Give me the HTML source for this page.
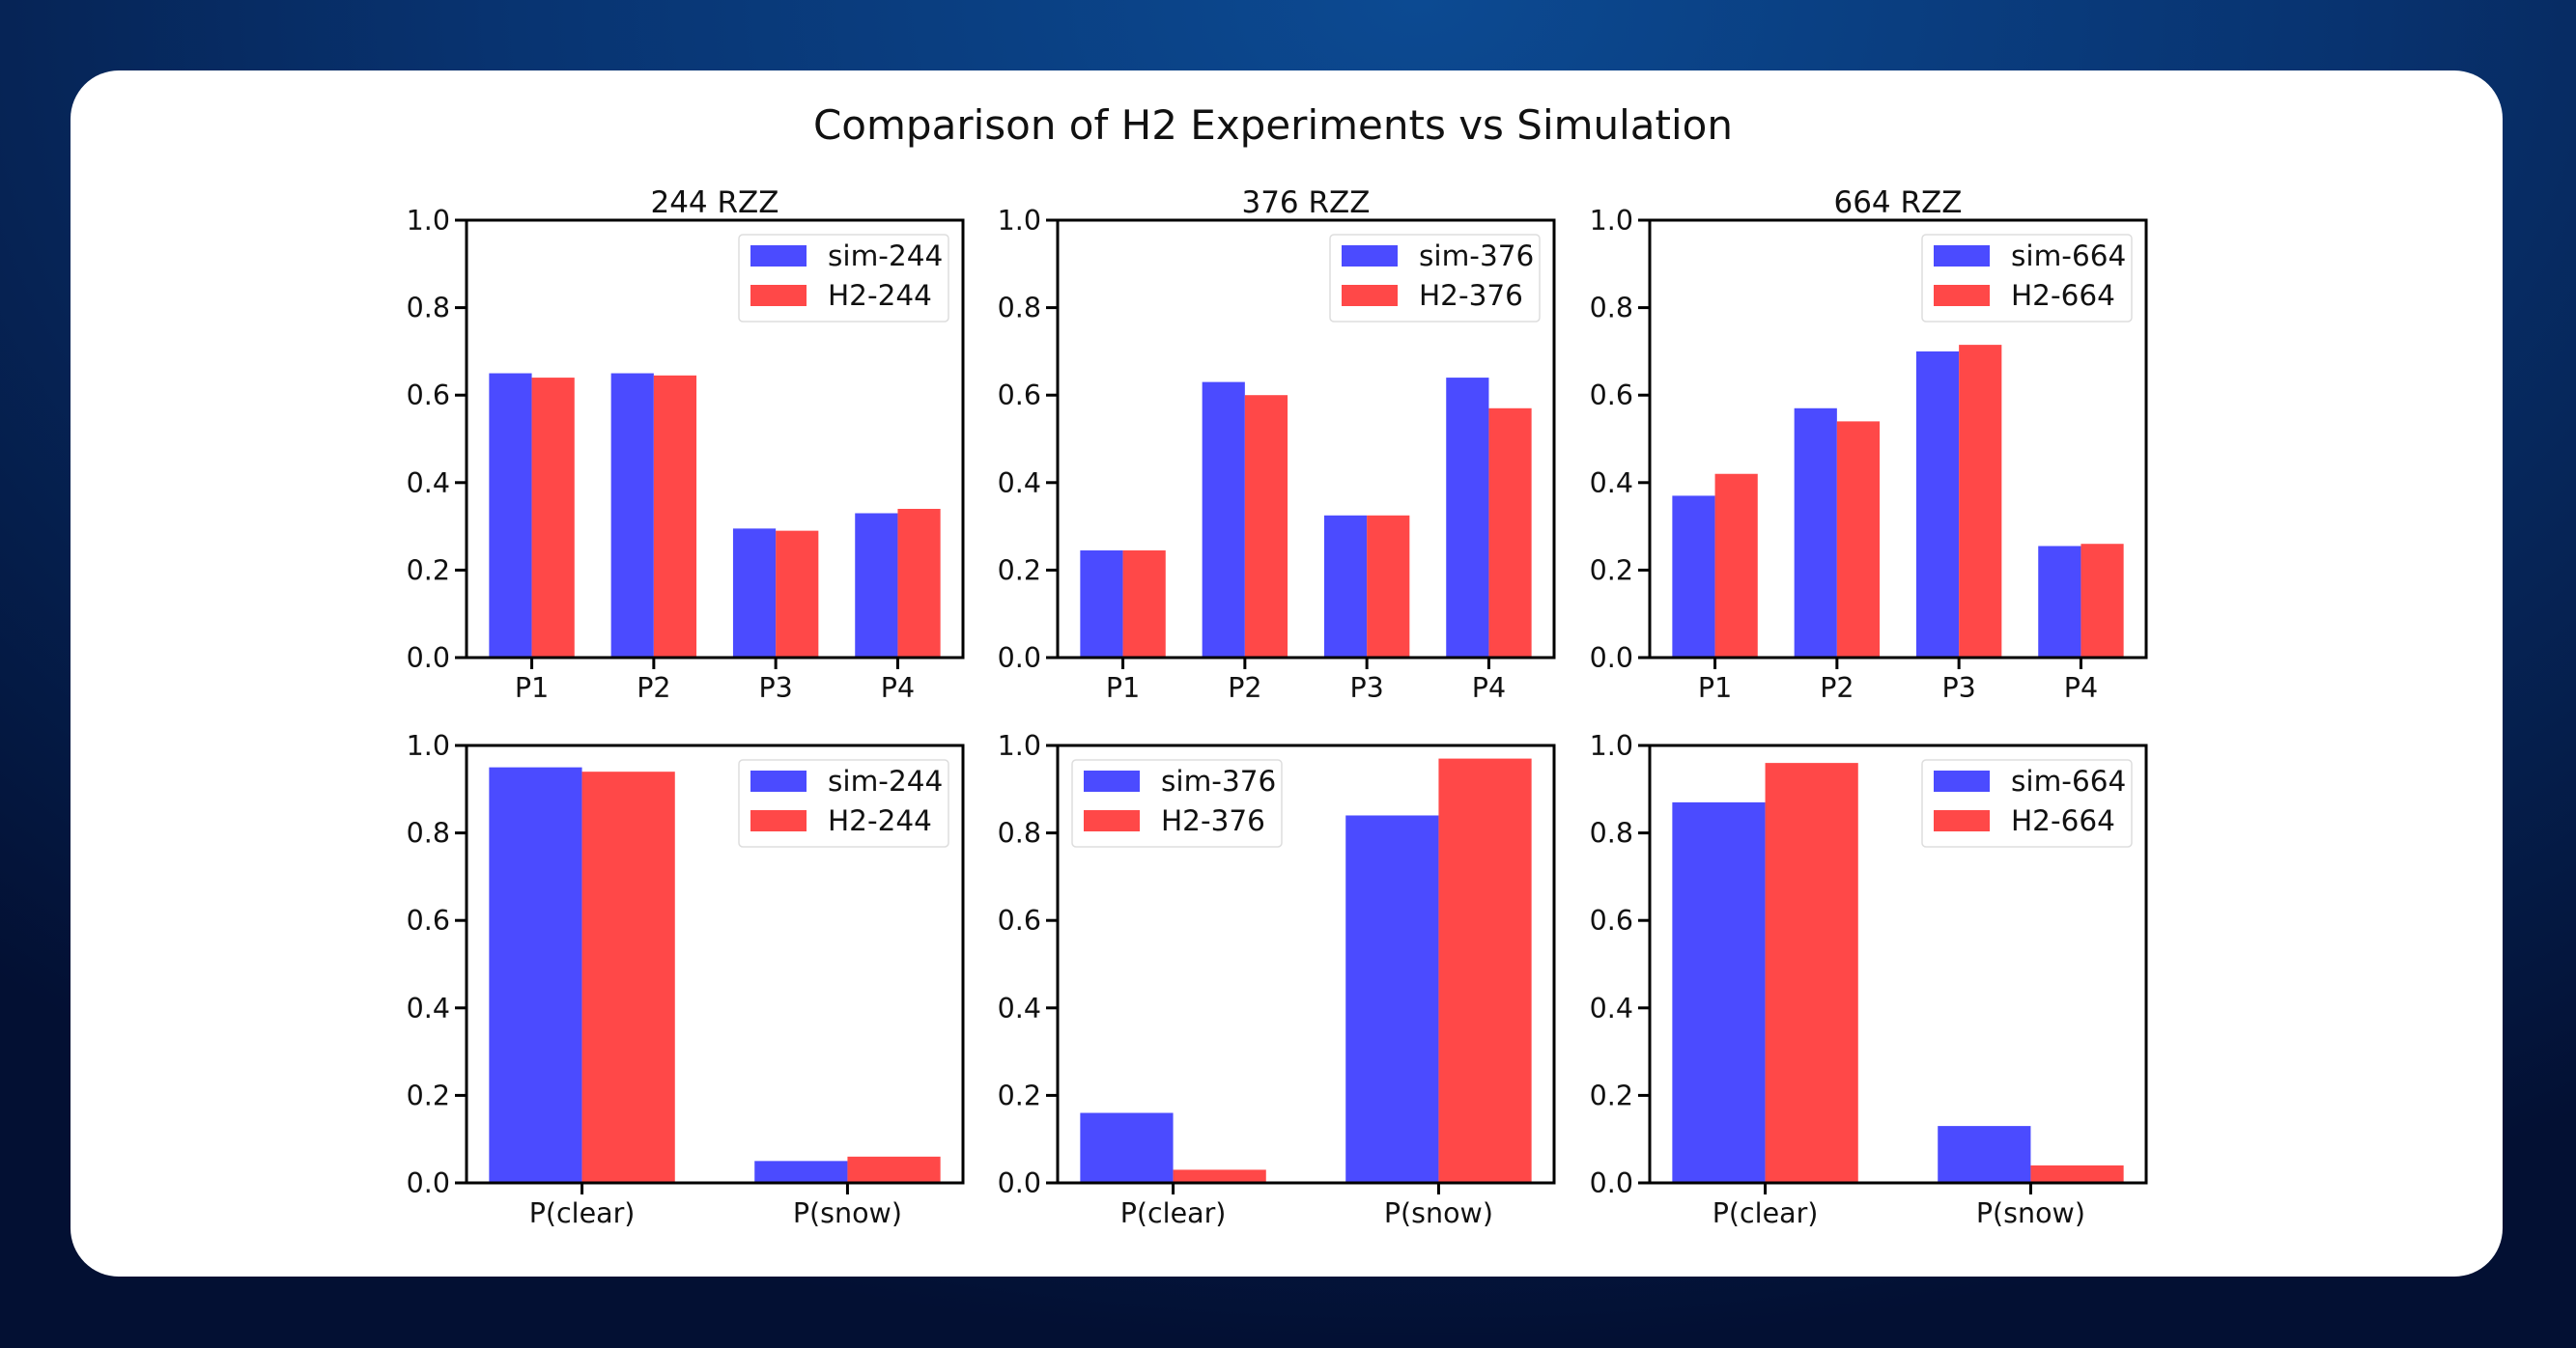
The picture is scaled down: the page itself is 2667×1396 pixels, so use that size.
<!DOCTYPE html>
<html><head><meta charset="utf-8"><style>
html,body{margin:0;padding:0;width:2667px;height:1396px;overflow:hidden}
body{background:radial-gradient(ellipse 80% 100% at 55% 0%,#0c4a92 0%,#083370 45%,#031033 100%)}
#card{position:absolute;left:73px;top:73px;width:2518px;height:1249px;background:#fff;border-radius:50px}
svg{position:absolute;left:0;top:0}
text{font-family:"DejaVu Sans","Liberation Sans",sans-serif;fill:#111}
</style></head><body>
<div id="card"></div>
<svg id="chart" width="2667" height="1396">
<text x="1318" y="144" font-size="42" text-anchor="middle">Comparison of H2 Experiments vs Simulation</text>
</svg>
<script>
const panelTitles = ["244 RZZ","376 RZZ","664 RZZ"];
const seriesIds = ["244","376","664"];
const catsTop = ["P1","P2","P3","P4"];
const catsBottom = ["P(clear)","P(snow)"];
const simTop = [[0.65,0.65,0.295,0.33],[0.245,0.63,0.325,0.64],[0.37,0.57,0.70,0.255]];
const h2Top = [[0.64,0.645,0.29,0.34],[0.245,0.60,0.325,0.57],[0.42,0.54,0.715,0.26]];
const simBottom = [[0.95,0.05],[0.16,0.84],[0.87,0.13]];
const h2Bottom = [[0.94,0.06],[0.03,0.97],[0.96,0.04]];
const yTicks = [0,0.2,0.4,0.6,0.8,1.0];
const yTickLabels = ["0.0","0.2","0.4","0.6","0.8","1.0"];

const svg = document.getElementById('chart');
const NS = 'http://www.w3.org/2000/svg';
function mk(tag, attrs, parent){const e=document.createElementNS(NS,tag);for(const k in attrs)e.setAttribute(k,attrs[k]);(parent||svg).appendChild(e);return e;}
const colX = [483,1095,1708], axW = 514;
const rowY = [228,772], axH = 453;
const BLUE = '#4b4bff', RED = '#ff4848';

function drawPanel(ci, ri, cats, sim, h2, legendLeft){
  const x0 = colX[ci], y0 = rowY[ri];
  const g = mk('g',{});
  
  
  const w = 0.35, n = cats.length;
  const lo = -w - 0.05*(n-1+2*w), hi = n-1+w + 0.05*(n-1+2*w);
  const xs = v => x0 + (v-lo)/(hi-lo)*axW;
  const ys = v => y0 + axH - v*axH;
  for(let i=0;i<n;i++){
    const b1 = mk('rect',{x:xs(i-w),y:ys(sim[i]),width:xs(i)-xs(i-w),height:ys(0)-ys(sim[i]),fill:BLUE},g);
    
    
    const b2 = mk('rect',{x:xs(i),y:ys(h2[i]),width:xs(i+w)-xs(i),height:ys(0)-ys(h2[i]),fill:RED},g);
    
    
    mk('line',{x1:xs(i),x2:xs(i),y1:y0+axH,y2:y0+axH+12,stroke:'#000','stroke-width':3},g);
    const t = mk('text',{x:xs(i),y:y0+axH+41,'font-size':28.5,'text-anchor':'middle'},g);
    t.textContent = cats[i];
    
    
  }
  for(let k=0;k<yTicks.length;k++){
    const yy = ys(yTicks[k]);
    mk('line',{x1:x0-12,x2:x0,y1:yy,y2:yy,stroke:'#000','stroke-width':3},g);
    const t = mk('text',{x:x0-17,y:yy+10,'font-size':28.5,'text-anchor':'end'},g);
    t.textContent = yTickLabels[k];
    
    
  }
  const fr = mk('rect',{x:x0,y:y0,width:axW,height:axH,fill:'none',stroke:'#000','stroke-width':3},g);
  
  
  if(ri===0){
    const t = mk('text',{x:x0+axW/2,y:y0-8,'font-size':31,'text-anchor':'middle'},g);
    t.textContent = panelTitles[ci];
    
    
  }
  const lx = legendLeft ? x0+15 : x0+axW-232, ly = y0+15;
  const lg = mk('g',{},g);
  
  
  mk('rect',{x:lx,y:ly,width:217,height:90,rx:4,fill:'#fff',stroke:'#ddd','stroke-width':1.5},lg);
  const labels = ['sim-'+seriesIds[ci],'H2-'+seriesIds[ci]];
  const cols = [BLUE,RED];
  for(let j=0;j<2;j++){
    const cy = ly+22+j*41;
    mk('rect',{x:lx+12,y:cy-11,width:58,height:22,fill:cols[j]},lg);
    const t = mk('text',{x:lx+92,y:cy+10,'font-size':29.5},lg);
    t.textContent = labels[j];
    
    
  }
}
for(let c=0;c<3;c++){
  drawPanel(c,0,catsTop,simTop[c],h2Top[c],false);
  drawPanel(c,1,catsBottom,simBottom[c],h2Bottom[c],c===1);
}
</script>
</body></html>
